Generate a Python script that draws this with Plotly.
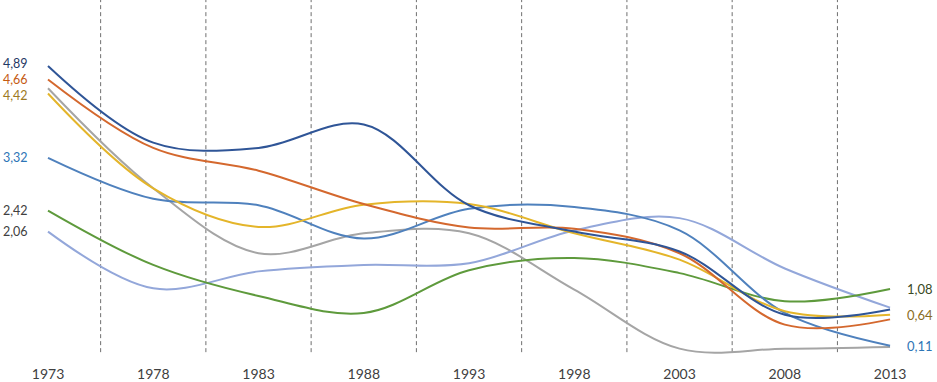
import plotly.graph_objects as go

years = [1973, 1978, 1983, 1988, 1993, 1998, 2003, 2008, 2013]
tick_labels = [str(y) for y in years]

gray = [4.51, 2.80, 1.69, 2.03, 2.03, 1.07, 0.06, 0.06, 0.09]
periwinkle = [2.06, 1.09, 1.38, 1.49, 1.52, 2.08, 2.29, 1.43, 0.76]
green = [2.42, 1.49, 0.96, 0.67, 1.40, 1.61, 1.35, 0.87, 1.08]
steel_blue = [3.32, 2.62, 2.51, 1.94, 2.45, 2.48, 2.08, 0.67, 0.11]
gold = [4.42, 2.80, 2.14, 2.52, 2.53, 2.03, 1.58, 0.70, 0.64]
orange = [4.66, 3.49, 3.10, 2.53, 2.13, 2.11, 1.69, 0.47, 0.56]
dark_blue = [4.89, 3.58, 3.49, 3.89, 2.51, 2.06, 1.72, 0.64, 0.73]

series = [
    ("gray", gray, "#A5A5A5"),
    ("periwinkle", periwinkle, "#93A7DA"),
    ("green", green, "#5E9A3C"),
    ("steel blue", steel_blue, "#4F81BD"),
    ("gold", gold, "#E4B52A"),
    ("orange", orange, "#D4682E"),
    ("dark blue", dark_blue, "#2F5597"),
]

left_labels = [("4,89", 4.89, "#1F3864", 2), ("4,66", 4.66, "#C55A11", 0),
               ("4,42", 4.42, "#9C7A23", -2), ("3,32", 3.32, "#2E75B6", 0),
               ("2,42", 2.42, "#404040", 0), ("2,06", 2.06, "#404040", 0)]
right_labels = [("1,08", 1.08, "#3A4A24"), ("0,64", 0.64, "#8A6D1E"),
                ("0,11", 0.11, "#2E75B6")]

Y_TOP = 6.017

fig = go.Figure()
for name, vals, col in series:
    fig.add_trace(go.Scatter(x=years, y=vals, mode="lines", name=name,
                             line=dict(color=col, width=2, shape="spline", smoothing=1.0),
                             hoverinfo="skip"))

for i in range(len(years) - 1):
    xm = (years[i] + years[i + 1]) / 2
    fig.add_shape(type="line", xref="x", yref="y", x0=xm, x1=xm, y0=0, y1=Y_TOP,
                  line=dict(color="#6F6F6F", width=1, dash="4px,3px"), layer="below")

for txt, v, col, ys in left_labels:
    fig.add_annotation(x=years[0], y=v, text=txt, showarrow=False, xanchor="right",
                       xshift=-19, yshift=ys, borderpad=0, font=dict(color=col, size=12.5))
for txt, v, col in right_labels:
    fig.add_annotation(x=years[-1], y=v, text=txt, showarrow=False, xanchor="left",
                       xshift=16, borderpad=0, font=dict(color=col, size=13))

fig.update_layout(
    width=937, height=382,
    margin=dict(l=0, r=0, t=0, b=21),
    paper_bgcolor="white", plot_bgcolor="white",
    showlegend=False,
    font=dict(family="Lato, 'Open Sans', sans-serif", size=13, color="#404040"),
    xaxis=dict(range=[1970.72, 2015.23], tickvals=years, ticktext=tick_labels,
               showgrid=False, zeroline=False, showline=False,
               ticks="outside", ticklen=3, tickcolor="rgba(0,0,0,0)",
               tickfont=dict(size=14, color="#404040")),
    yaxis=dict(range=[-0.1, Y_TOP], visible=False, showgrid=False, zeroline=False),
)

fig.write_html("out.html", config={"displayModeBar": False},
               post_script="document.body.style.margin='0';document.body.style.overflow='hidden';")
